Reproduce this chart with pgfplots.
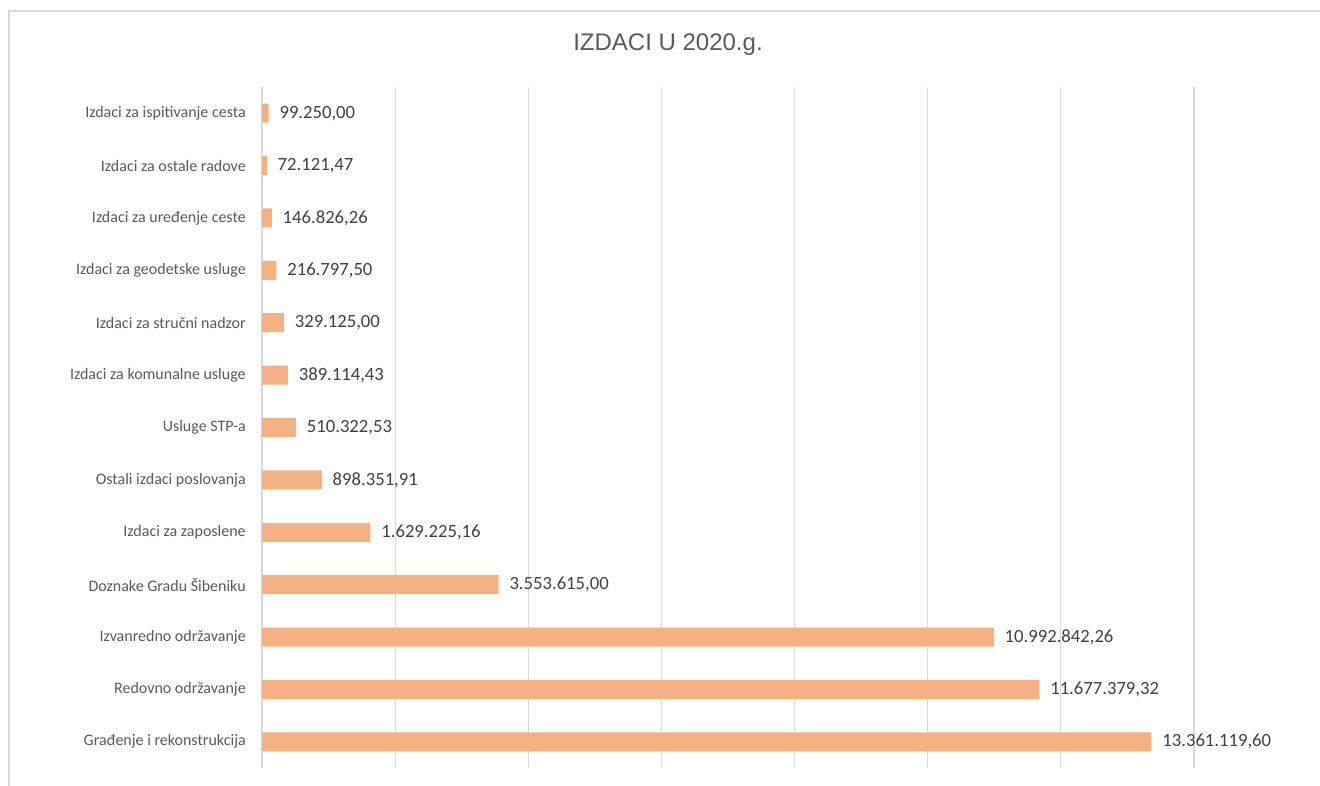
\documentclass[border=0pt]{standalone}
\usepackage{pgfplots}
\pgfplotsset{compat=1.18}
\usepackage{pgfplotstable}
\usepackage{fontspec}
\setmainfont{Carlito}
\newfontfamily\titlefont{Liberation Sans}
\definecolor{barc}{HTML}{F4B183}
\definecolor{gridc}{HTML}{D9D9D9}
\definecolor{labc}{HTML}{595959}
\definecolor{datc}{HTML}{404040}
\pgfplotstableread{
y v lab
0 13361119.60 13.361.119,60
1 11677379.32 11.677.379,32
2 10992842.26 10.992.842,26
3 3553615.00 3.553.615,00
4 1629225.16 1.629.225,16
5 898351.91 898.351,91
6 510322.53 510.322,53
7 389114.43 389.114,43
8 329125.00 329.125,00
9 216797.50 216.797,50
10 146826.26 146.826,26
11 72121.47 72.121,47
12 99250.00 99.250,00
}\datatab
\begin{document}
\begin{tikzpicture}
\begin{axis}[
  at={(0,0)}, anchor=south west,
  scale only axis,
  width=699pt, height=510.75pt,
  xmin=0, xmax=14000000,
  ymin=-0.5, ymax=12.5,
  enlargelimits=false,
  axis line style={draw=none},
  scaled x ticks=false,
  xtick={0,2000000,4000000,6000000,8000000,10000000,12000000,14000000},
  xticklabels={},
  xmajorgrids,
  grid style={gridc, line width=0.8pt},
  major tick length=0pt,
  ytick={0,...,12},
  yticklabels={Građenje i rekonstrukcija, Redovno održavanje, Izvanredno održavanje, Doznake Gradu Šibeniku, Izdaci za zaposlene, Ostali izdaci poslovanja, Usluge STP-a, Izdaci za komunalne usluge, Izdaci za stručni nadzor, Izdaci za geodetske usluge, Izdaci za uređenje ceste, Izdaci za ostale radove, Izdaci za ispitivanje cesta},
  y tick label style={font=\fontsize{12pt}{14pt}\selectfont, text=labc, anchor=east, inner sep=0pt, xshift=-12pt},
  tick style={draw=none},
  nodes near coords,
  point meta=explicit symbolic,
  every node near coord/.append style={font=\fontsize{14pt}{16pt}\selectfont, text=datc, anchor=west, inner sep=0pt, xshift=8pt},
]
\addplot[xbar, bar width=14.25pt, fill=barc, draw=none] table[x=v, y=y, meta=lab] {\datatab};
\end{axis}
\node[font=\titlefont\fontsize{18pt}{20pt}\selectfont, text=labc] at (304.5pt,542.25pt) {IZDACI U 2020.g.};
\draw[gridc, line width=1pt] (-189.75pt,-40pt) -- (-189.75pt,567.75pt) -- (820pt,567.75pt);
\pgfresetboundingbox
\useasboundingbox (-196.5pt,-12.75pt) rectangle (793.5pt,576pt);
\end{tikzpicture}
\end{document}
